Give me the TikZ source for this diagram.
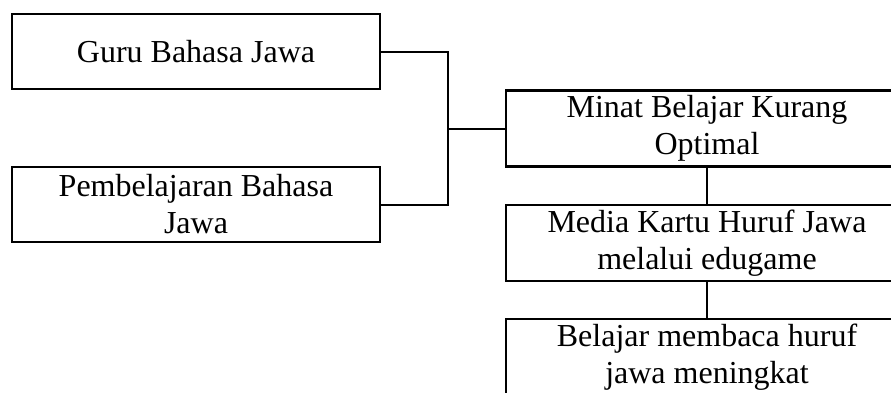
\documentclass[tikz,border=0pt]{standalone}
\usepackage{fontspec}
\setmainfont{Liberation Serif}
\usepackage{tikz}
\usetikzlibrary{calc}
\tikzset{>=stealth}
\tikzset{kotak/.style={draw,line width=2.2pt,inner sep=0pt,align=center,
    font=\fontsize{32}{37}\selectfont},
  kiri/.style={kotak,minimum width=368pt,minimum height=75pt},
  kanan/.style={kotak,minimum width=402pt,minimum height=76pt}}

\begin{document}
\begin{tikzpicture}[x=1pt,y=-1pt]
     \clip (0,0) rectangle (891,392);

      \node[kiri] (guru) at (196,51.5) {Guru Bahasa Jawa};
      \node[kiri] (pemb) at (196,204.5) {Pembelajaran Bahasa\\Jawa};

      \node[kanan] (minat) at (707,128.5) {Minat Belajar Kurang\\Optimal};
      \node[kanan] (media) at (707,243) {Media Kartu Huruf Jawa\\melalui edugame};
      \node[kanan] (hasil) at (707,357) {Belajar membaca huruf\\jawa meningkat};

    \coordinate (sambung) at (448,128.5);
    \draw[line width=2pt] (guru.east) -| (sambung) |- (pemb.east);
    \draw[line width=2pt] (sambung) -- (minat.west);

      \draw[line width=2pt] (minat.south) -- (media.north);
      \draw[line width=2pt] (media.south) -- (hasil.north);
    \end{tikzpicture}
\end{document}
